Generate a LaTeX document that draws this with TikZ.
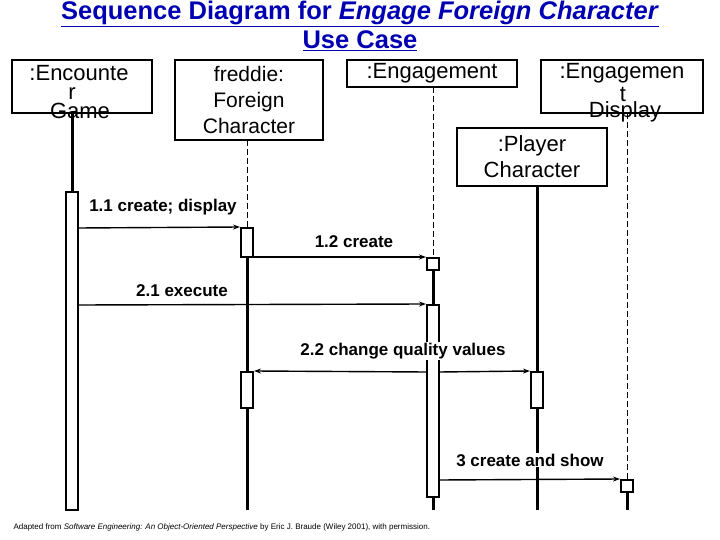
\documentclass[tikz,border=0pt]{standalone}
\usepackage{fontspec}
\setmainfont{Liberation Sans}
\usetikzlibrary{arrows.meta}
\begin{document}
\begin{tikzpicture}[x=1pt,y=-1pt,
  obj/.style={draw,line width=2pt,fill=white,inner sep=0pt,font=\fontsize{22}{22}\selectfont,align=center},
  tx/.style={font=\fontsize{22}{22}\selectfont,inner sep=0pt},
  life/.style={line width=3pt},
  dashlife/.style={line width=0.6pt,dash pattern=on 6pt off 3pt},
  act/.style={draw,line width=2pt,fill=white},
  msg/.style={line width=1.4pt,-{Stealth[length=7pt,width=5pt]}},
  lbl/.style={font=\fontsize{17}{17}\selectfont\bfseries,fill=white,inner sep=1pt}]
\useasboundingbox (0,0) rectangle (720,540);
% title
\node[font=\fontsize{25.5}{30}\selectfont\bfseries,text=blue!70!black,align=center] (title) at (360,26)
 {\underline{Sequence Diagram for \textit{Engage Foreign Character}}\\[-1pt]\underline{Use Case}};
% objects
\node[obj,minimum width=140pt,minimum height=53pt] (enc) at (82,86.5) {};
\node[tx] (enct) at (79,73) {:Encounte};
\node[tx] (encr) at (72,94) {r};
\node[tx] (encg) at (80,111) {Game};
\node[obj,minimum width=148pt,minimum height=80pt,font=\fontsize{21}{26}\selectfont] (fred) at (249,100) {freddie:\\Foreign\\Character};
\node[obj,minimum width=170pt,minimum height=27pt] (eng) at (432,73.5) {:Engagement};
\node[obj,minimum width=162pt,minimum height=53pt] (disp) at (622,86.5) {};
\node[tx] (dispt) at (622,73) {:Engagemen};
\node[tx] (dispr) at (623,94) {t};
\node[tx] (dispd) at (625,112) {Display};
\node[obj,minimum width=150pt,minimum height=58pt,font=\fontsize{22}{26}\selectfont] (pl) at (532,157) {:Player\\Character};
% lifelines
\draw[life] (72,113) -- (72,510);
\node[act,minimum width=12pt,minimum height=318pt,inner sep=0pt] (a1) at (72,351) {};
\draw[dashlife] (247,140) -- (247,228);
\draw[life] (247,257) -- (247,510);
\node[act,minimum width=12pt,minimum height=29pt,inner sep=0pt] (f1) at (247,242.5) {};
\node[act,minimum width=12pt,minimum height=36pt,inner sep=0pt] (f2) at (247,390) {};
\draw[dashlife] (433,87) -- (433,258);
\draw[life] (433,270) -- (433,510);
\node[act,minimum width=12pt,minimum height=12pt,inner sep=0pt] (e1) at (433,264) {};
\node[act,minimum width=12pt,minimum height=192pt,inner sep=0pt] (e2) at (433,401) {};
\draw[life] (537,186) -- (537,510);
\node[act,minimum width=12pt,minimum height=36pt,inner sep=0pt] (p1) at (537,390) {};
\draw[dashlife] (627,113) -- (627,480);
\draw[life] (627,492) -- (627,510);
\node[act,minimum width=12pt,minimum height=12pt,inner sep=0pt] (d1) at (627,486) {};
% messages
\coordinate (m1s) at (78,228);
\draw[msg] (m1s) -- (f1.north west);
\node[lbl] (l1) at (163,207) {1.1 create; display};
\coordinate (m2s) at (253,257);
\draw[msg] (m2s) -- (e1.north west);
\node[lbl] (l2) at (354,242) {1.2 create};
\coordinate (m3s) at (78,305);
\draw[msg] (m3s) -- (e2.north west);
\node[lbl] (l3) at (182,291) {2.1 execute};
\coordinate (m4s) at (439,372);
\coordinate (m4t) at (427,372);
\draw[msg] (m4t) -- (f2.north east);
\draw[msg] (m4s) -- (p1.north west);
\node[lbl] (l4) at (403,351) {2.2 change quality values};
\coordinate (m5s) at (439,480);
\draw[msg] (m5s) -- (d1.north west);
\node[lbl] (l5) at (530,460) {3 create and show};
% footer
\node[font=\fontsize{8}{8}\selectfont,anchor=west] (foot) at (10,527)
 {Adapted from \textit{Software Engineering: An Object-Oriented Perspective} by Eric J. Braude (Wiley 2001), with permission.};
\end{tikzpicture}
\end{document}
